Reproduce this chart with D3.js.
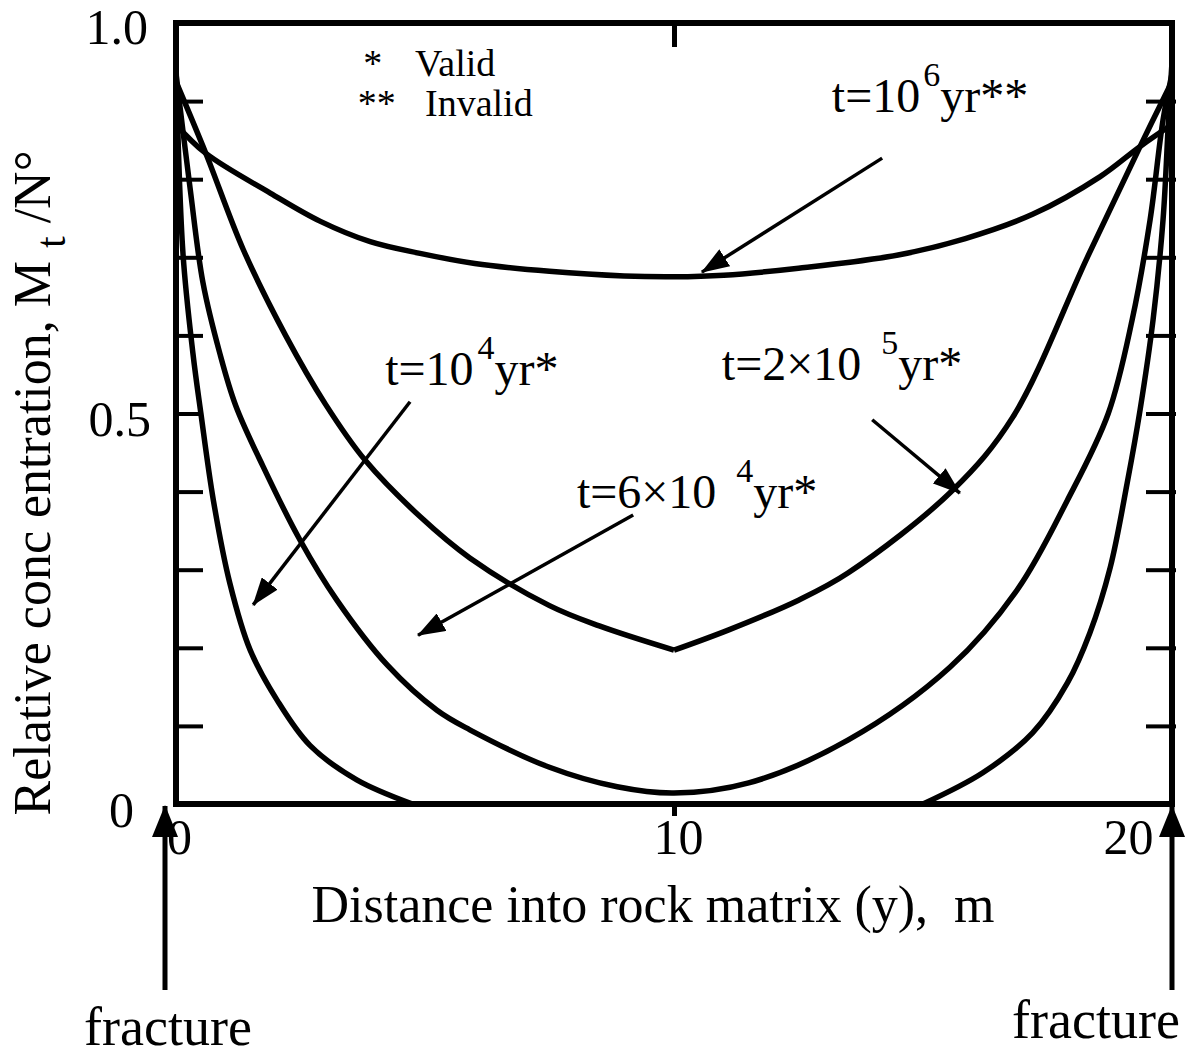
<!DOCTYPE html>
<html>
<head>
<meta charset="utf-8">
<script src="https://cdn.jsdelivr.net/npm/d3@7"></script>
<style>
  body { margin: 0; background: #fff; }
  svg { display: block; }
  text { font-family: "Liberation Serif", "Times New Roman", serif; fill: #000; }
</style>
</head>
<body>
<div id="chart"></div>
<script>
const width = 1193;
const height = 1056;

// values: [distance into matrix (m), relative concentration]
const t1e6 = [[0,0.87],[0.6,0.833],[1.9,0.782],[2.9,0.746],[3.9,0.72],[4.9,0.705],[6,0.692],[7.5,0.682],[9,0.676],[10,0.675],[11,0.677],[12.5,0.686],[14.5,0.703],[15.85,0.724],[17.2,0.755],[18.55,0.803],[19.36,0.842],[20,0.87]];
const t2e5Left = [[0,0.925],[0.6,0.833],[1.35,0.71],[2.2,0.6],[3.0,0.512],[3.8,0.44],[4.9,0.368],[5.9,0.315],[7.5,0.254],[8.5,0.228],[10,0.197]];
const t2e5Right = [[10,0.197],[11.1,0.223],[12.5,0.261],[13.5,0.296],[15.6,0.402],[16.8,0.495],[18.3,0.70],[19.36,0.842],[20,0.925]];
const t6e4 = [[0,0.935],[0.28,0.79],[0.54,0.668],[0.88,0.577],[1.2,0.51],[1.75,0.432],[2.49,0.338],[3.23,0.261],[4.24,0.178],[5.24,0.12],[5.9,0.095],[7.5,0.047],[8.86,0.022],[10,0.014],[11.5,0.027],[13.5,0.082],[15.54,0.175],[16.89,0.274],[17.9,0.389],[18.72,0.5],[19.2,0.62],[19.56,0.748],[19.82,0.876],[20,0.935]];
const t1e4Left = [[0,0.95],[0.14,0.705],[0.34,0.577],[0.5,0.5],[0.75,0.389],[1.08,0.283],[1.49,0.197],[2.03,0.133],[2.69,0.075],[3.63,0.031],[4.75,0]];
const t1e4Right = [[15.0,0],[16.2,0.04],[17.2,0.091],[17.9,0.155],[18.35,0.219],[18.76,0.303],[19.1,0.411],[19.36,0.505],[19.62,0.62],[19.82,0.748],[19.93,0.876],[20,0.95]];

const curveSegments = [t1e6, t2e5Left, t2e5Right, t6e4, t1e4Left, t1e4Right];

const xTickLabels = [0, 10, 20];
const yTickLabels = [0, 0.5, 1.0];
const yMinorTicks = [0.1, 0.2, 0.3, 0.4, 0.5, 0.6, 0.7, 0.8, 0.9];

const svg = d3.select("#chart")
    .append("svg")
    .attr("width", width)
    .attr("height", height);

svg.append("rect").attr("width", width).attr("height", height).attr("fill", "#fff");

const x = d3.scaleLinear().domain([0, 20]).range([176, 1172]);
const y = d3.scaleLinear().domain([0, 1]).range([804, 23]);

// arrow heads
const defs = svg.append("defs");
defs.append("marker")
    .attr("id", "head")
    .attr("markerUnits", "userSpaceOnUse")
    .attr("markerWidth", 28).attr("markerHeight", 20)
    .attr("refX", 27).attr("refY", 10)
    .attr("orient", "auto")
    .append("path").attr("d", "M0,0 L28,10 L0,20 Z").attr("fill", "#000");
defs.append("marker")
    .attr("id", "bighead")
    .attr("markerUnits", "userSpaceOnUse")
    .attr("markerWidth", 32).attr("markerHeight", 26)
    .attr("refX", 31).attr("refY", 13)
    .attr("orient", "auto")
    .append("path").attr("d", "M0,0 L32,13 L0,26 Z").attr("fill", "#000");

// minor ticks, inward on both sides
svg.append("g")
    .attr("transform", `translate(${x(0)},0)`)
    .call(d3.axisLeft(y).tickValues(yMinorTicks).tickSize(-27).tickFormat(""))
    .call(g => g.select(".domain").remove())
    .call(g => g.selectAll("line").attr("stroke-width", 4));

svg.append("g")
    .attr("transform", `translate(${x(20) + 4},0)`)
    .call(d3.axisRight(y).tickValues(yMinorTicks).tickSize(-30).tickFormat(""))
    .call(g => g.select(".domain").remove())
    .call(g => g.selectAll("line").attr("stroke-width", 4));

// tick at 10 on top (inward) and bottom (outward)
svg.append("g")
    .attr("transform", `translate(0,${y(1)})`)
    .call(d3.axisTop(x).tickValues([10]).tickSize(-24).tickFormat(""))
    .call(g => g.select(".domain").remove())
    .call(g => g.selectAll("line").attr("stroke-width", 5));

svg.append("g")
    .attr("transform", `translate(0,${y(0)})`)
    .call(d3.axisBottom(x).tickValues([10]).tickSize(12).tickFormat(""))
    .call(g => g.select(".domain").remove())
    .call(g => g.selectAll("line").attr("stroke-width", 5));

// tick labels
svg.append("g")
    .attr("transform", `translate(${x(0)},0)`)
    .call(d3.axisLeft(y).tickValues(yTickLabels).tickSize(0).tickPadding(28)
        .tickFormat(d => d === 0 ? "0" : d3.format(".1f")(d)))
    .call(g => g.select(".domain").remove())
    .call(g => g.selectAll("text")
        .attr("font-size", 50)
        .attr("font-family", "Liberation Serif, serif")
        .attr("dy", d => d === 1 ? 20 : 22)
        .attr("dx", d => d === 0 ? -14 : (d === 0.5 ? 3 : 0)));

svg.append("g")
    .attr("transform", `translate(0,${y(0)})`)
    .call(d3.axisBottom(x).tickValues(xTickLabels).tickSize(0).tickFormat(d3.format("d")))
    .call(g => g.select(".domain").remove())
    .call(g => g.selectAll("text")
        .attr("font-size", 50)
        .attr("font-family", "Liberation Serif, serif")
        .attr("y", 50)
        .attr("dy", 0)
        .attr("dx", d => d === 20 ? -44 : (d === 0 ? 3 : 4)));

// frame
svg.append("rect")
    .attr("x", x(0)).attr("y", y(1))
    .attr("width", x(20) - x(0)).attr("height", y(0) - y(1))
    .attr("fill", "none")
    .attr("stroke", "#000")
    .attr("stroke-width", 6);

// curves
const line = d3.line()
    .x(d => x(d[0]))
    .y(d => y(d[1]))
    .curve(d3.curveCatmullRom.alpha(0.5));

svg.append("g")
    .selectAll("path")
    .data(curveSegments)
    .enter().append("path")
    .attr("d", line)
    .attr("fill", "none")
    .attr("stroke", "#000")
    .attr("stroke-width", 5.5)
    .attr("stroke-linejoin", "round");

// curve labels with superscripts
const curveLabels = [
    { x: 13.17, y: 0.886, base: "t=10", sup: "6", rest: "yr**", gap: 3 },
    { x: 4.20, y: 0.536, base: "t=10", sup: "4", rest: "yr*", gap: 4 },
    { x: 10.96, y: 0.543, base: "t=2\u00d710 ", sup: "5", rest: "yr*", gap: 8 },
    { x: 8.05, y: 0.379, base: "t=6\u00d710 ", sup: "4", rest: "yr*", gap: 8 }
];

curveLabels.forEach(l => {
    const t = svg.append("text")
        .attr("x", x(l.x))
        .attr("y", y(l.y))
        .attr("font-size", 48)
        .attr("xml:space", "preserve");
    t.append("tspan").text(l.base);
    t.append("tspan").attr("dx", l.gap).attr("dy", -26).attr("font-size", 34).text(l.sup);
    t.append("tspan").attr("dy", 26).text(l.rest);
});

// arrows pointing at the curves
const labelArrows = [
    { from: [14.18, 0.827], to: [10.56, 0.681] },
    { from: [4.70, 0.515], to: [1.55, 0.255] },
    { from: [13.98, 0.492], to: [15.74, 0.398] },
    { from: [9.18, 0.370], to: [4.86, 0.216] }
];

svg.append("g")
    .selectAll("line")
    .data(labelArrows)
    .enter().append("line")
    .attr("x1", d => x(d.from[0]))
    .attr("y1", d => y(d.from[1]))
    .attr("x2", d => x(d.to[0]))
    .attr("y2", d => y(d.to[1]))
    .attr("stroke", "#000")
    .attr("stroke-width", 3.5)
    .attr("marker-end", "url(#head)");

// validity key
const key = [
    { mark: "*", text: "Valid", y: 0.932, markX: 3.76, textX: 4.80 },
    { mark: "**", text: "Invalid", y: 0.881, markX: 3.65, textX: 5.0 }
];
key.forEach(k => {
    svg.append("text").attr("x", x(k.markX)).attr("y", y(k.y)).attr("font-size", 38).text(k.mark);
    svg.append("text").attr("x", x(k.textX)).attr("y", y(k.y)).attr("font-size", 38).text(k.text);
});

// axis titles
svg.append("text")
    .attr("x", 653)
    .attr("y", 922)
    .attr("text-anchor", "middle")
    .attr("font-size", 52)
    .attr("xml:space", "preserve")
    .text("Distance into rock matrix (y),  m");

const yTitle = svg.append("text")
    .attr("transform", "translate(50,483) rotate(-90)")
    .attr("text-anchor", "middle")
    .attr("font-size", 52)
    .attr("xml:space", "preserve");
yTitle.append("tspan").text("Relative conc entration, M ");
yTitle.append("tspan").attr("dy", 15).attr("font-size", 42).text("t");
yTitle.append("tspan").attr("dy", -15).text(" /N\u00b0");

// fracture markers below the axis
const fractures = [
    { at: 0, dx: -11, labelX: 168, labelY: 1045 },
    { at: 20, dx: 0, labelX: 1096, labelY: 1038 }
];
fractures.forEach(f => {
    svg.append("line")
        .attr("x1", x(f.at) + f.dx).attr("y1", 990)
        .attr("x2", x(f.at) + f.dx).attr("y2", y(0) + 2)
        .attr("stroke", "#000")
        .attr("stroke-width", 5)
        .attr("marker-end", "url(#bighead)");
    svg.append("text")
        .attr("x", f.labelX).attr("y", f.labelY)
        .attr("text-anchor", "middle")
        .attr("font-size", 54)
        .text("fracture");
});
</script>
</body>
</html>
